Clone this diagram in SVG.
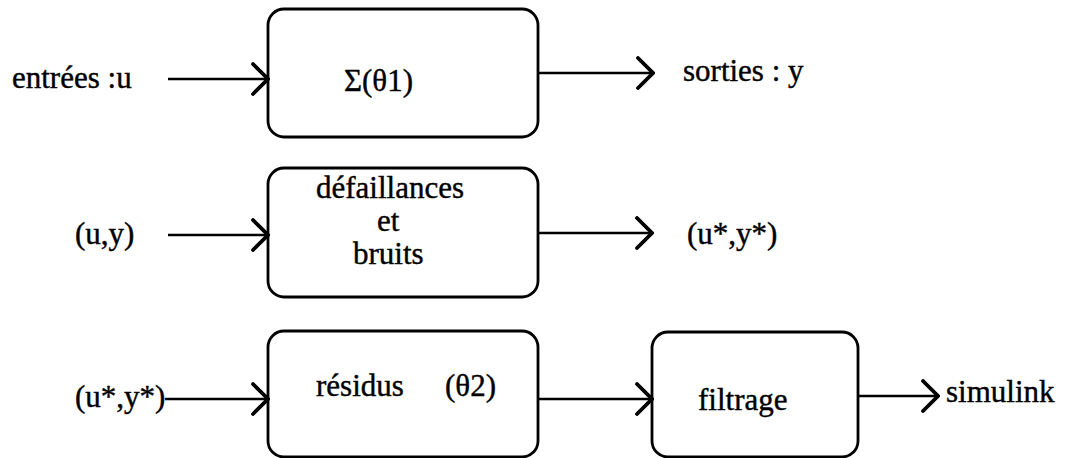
<svg xmlns="http://www.w3.org/2000/svg" width="1070" height="458" viewBox="0 0 1070 458">
  <style>
    .box { fill: #ffffff; stroke: #000000; stroke-width: 2.8; }
    .lbl { font-family: "Liberation Serif", "Times New Roman", serif; font-size: 31px; fill: #000000; stroke: #000000; stroke-width: 0.4; }
    .wire { fill: none; stroke: #000000; stroke-width: 2.6; }
  </style>
  <defs>
    <marker id="chev" viewBox="0 0 20 34" refX="18" refY="17" markerWidth="20" markerHeight="34" markerUnits="userSpaceOnUse" orient="auto">
      <path d="M3,2 L18,17 L3,32" fill="none" stroke="#000000" stroke-width="3.8" stroke-linecap="round" stroke-linejoin="miter"/>
    </marker>
  </defs>
  <rect width="1070" height="458" fill="#ffffff"/>

  <!-- blocks -->
  <g id="sigma">
    <rect class="box" x="268" y="9" width="270" height="128" rx="16"/>
    <text class="lbl" x="344" y="91">Σ(θ1)</text>
  </g>
  <g id="defaillances">
    <rect class="box" x="268" y="168" width="270" height="129" rx="16"/>
    <text class="lbl" x="316" y="198">défaillances</text>
    <text class="lbl" x="377" y="231">et</text>
    <text class="lbl" x="353" y="264">bruits</text>
  </g>
  <g id="residus">
    <rect class="box" x="268" y="331" width="270" height="126" rx="16"/>
    <text class="lbl" x="316" y="396">résidus</text>
    <text class="lbl" x="445" y="396">(θ2)</text>
  </g>
  <g id="filtrage">
    <rect class="box" x="652" y="332" width="206" height="125" rx="16"/>
    <text class="lbl" x="698" y="410">filtrage</text>
  </g>

  <!-- free labels -->
  <g id="labels">
    <text class="lbl" x="12" y="88">entrées :u</text>
    <text class="lbl" x="683" y="81">sorties : y</text>
    <text class="lbl" x="75" y="244">(u,y)</text>
    <text class="lbl" x="687" y="244">(u*,y*)</text>
    <text class="lbl" x="75" y="407">(u*,y*)</text>
    <text class="lbl" x="946" y="402">simulink</text>
  </g>

  <!-- connectors -->
  <g id="connectors">
    <line class="wire" x1="168" y1="79" x2="268" y2="79" marker-end="url(#chev)"/>
    <line class="wire" x1="538" y1="73" x2="653" y2="73" marker-end="url(#chev)"/>
    <line class="wire" x1="168" y1="235" x2="268" y2="235" marker-end="url(#chev)"/>
    <line class="wire" x1="538" y1="233" x2="652" y2="233" marker-end="url(#chev)"/>
    <line class="wire" x1="165" y1="399" x2="268" y2="399" marker-end="url(#chev)"/>
    <line class="wire" x1="538" y1="399" x2="652" y2="399" marker-end="url(#chev)"/>
    <line class="wire" x1="858" y1="396" x2="938" y2="396" marker-end="url(#chev)"/>
  </g>
</svg>
